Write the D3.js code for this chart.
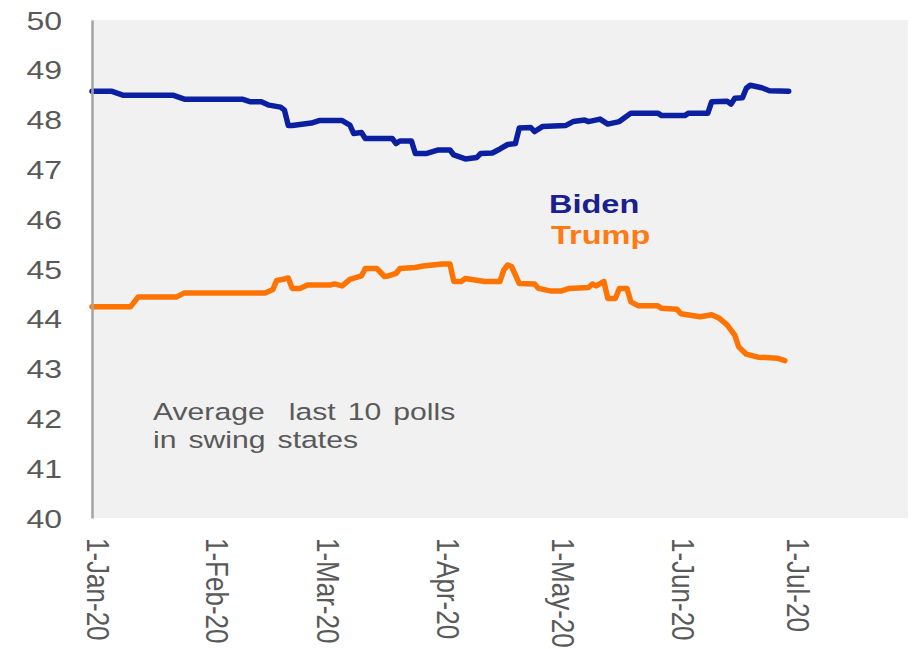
<!DOCTYPE html>
<html>
<head>
<meta charset="utf-8">
<script src="https://cdnjs.cloudflare.com/ajax/libs/d3/7.8.5/d3.min.js"></script>
<style>
body { margin: 0; background: #fff; }
svg { display: block; font-family: "Liberation Sans", Arial, sans-serif; }
</style>
</head>
<body>
<svg id="chart" width="913" height="649"></svg>
<script>
// days since 1-Jan-20 and poll average
var bidenDays = [0, 5, 8, 21, 24, 39, 41, 44, 46, 49, 50, 51, 52, 57, 59, 65, 67, 68, 70, 71, 78, 79, 80, 83, 84, 87, 90, 93, 94, 97, 100, 101, 104, 106, 108, 110, 111, 114, 115, 117, 123, 125, 128, 129, 132, 134, 137, 140, 147, 148, 154, 155, 160, 161, 165, 166, 167, 169, 170, 171, 174, 176, 181];
var bidenVals = [48.57, 48.57, 48.49, 48.49, 48.41, 48.41, 48.36, 48.36, 48.29, 48.25, 48.19, 47.88, 47.88, 47.93, 47.98, 47.98, 47.89, 47.72, 47.74, 47.62, 47.62, 47.52, 47.57, 47.57, 47.32, 47.32, 47.39, 47.39, 47.29, 47.21, 47.24, 47.32, 47.33, 47.41, 47.50, 47.52, 47.83, 47.84, 47.76, 47.86, 47.88, 47.96, 47.99, 47.96, 48.01, 47.91, 47.96, 48.13, 48.13, 48.08, 48.08, 48.13, 48.13, 48.36, 48.37, 48.31, 48.43, 48.44, 48.63, 48.69, 48.64, 48.58, 48.57];

var trumpDays = [0, 10, 12, 22, 24, 45, 47, 48, 50, 51, 52, 54, 56, 62, 63, 65, 67, 70, 71, 74, 76, 77, 79, 80, 84, 86, 91, 93, 94, 96, 97, 102, 106, 107, 108, 109, 111, 115, 116, 119, 122, 124, 129, 130, 131, 133, 134, 136, 137, 139, 140, 142, 147, 148, 152, 153, 158, 161, 163, 165, 167, 168, 170, 173, 178, 180];
var trumpVals = [44.24, 44.24, 44.44, 44.44, 44.52, 44.52, 44.59, 44.77, 44.80, 44.82, 44.61, 44.61, 44.68, 44.68, 44.70, 44.66, 44.79, 44.86, 45.01, 45.01, 44.85, 44.86, 44.91, 45.01, 45.03, 45.06, 45.10, 45.10, 44.75, 44.75, 44.81, 44.75, 44.75, 44.98, 45.08, 45.05, 44.71, 44.70, 44.61, 44.56, 44.56, 44.61, 44.63, 44.70, 44.66, 44.75, 44.41, 44.41, 44.61, 44.61, 44.34, 44.26, 44.26, 44.21, 44.19, 44.10, 44.04, 44.08, 44.01, 43.88, 43.67, 43.44, 43.29, 43.23, 43.21, 43.16];

var yTicks = [40, 41, 42, 43, 44, 45, 46, 47, 48, 49, 50];
var seriesNames = ['Biden', 'Trump'];
var noteLines = ['Average  last 10 polls', 'in swing states'];

var start = new Date(2020, 0, 1);
var stretch = 1.23; // the picture is a bit wider than tall

var svg = d3.select('#chart');
var plotL = 92, plotR = 908, plotT = 20, plotB = 518;

var x = d3.scaleTime().domain([start, new Date(2020, 6, 31)]).range([plotL, plotR]);
var y = d3.scaleLinear().domain([40, 50]).range([plotB, plotT]);

svg.append('rect')
  .attr('x', plotL).attr('y', plotT)
  .attr('width', plotR - plotL).attr('height', plotB - plotT)
  .style('fill', '#f1f1f1');

function toPoints(days, vals) {
  return days.map(function(d, i) { return {date: d3.timeDay.offset(start, d), v: vals[i]}; });
}

var line = d3.line()
  .x(function(d) { return x(d.date); })
  .y(function(d) { return y(d.v); });

svg.append('path')
  .datum(toPoints(trumpDays, trumpVals))
  .attr('d', line)
  .style('fill', 'none').style('stroke', '#ff7300')
  .style('stroke-width', 5.5).style('stroke-linejoin', 'round').style('stroke-linecap', 'round');

svg.append('path')
  .datum(toPoints(bidenDays, bidenVals))
  .attr('d', line)
  .style('fill', 'none').style('stroke', '#0b20a0')
  .style('stroke-width', 5.5).style('stroke-linejoin', 'round').style('stroke-linecap', 'round');

// y axis
var yAxis = svg.append('g')
  .attr('transform', 'translate(' + plotL + ',0)')
  .call(d3.axisLeft(y).tickValues(yTicks).tickSize(0).tickSizeOuter(0).tickFormat(d3.format('d')));
yAxis.select('.domain').style('stroke', '#a3a3a3').style('stroke-width', 2.5);
yAxis.selectAll('text')
  .attr('x', null).attr('dy', null)
  .attr('text-anchor', 'end')
  .attr('transform', 'translate(-30,9) scale(' + stretch + ',1)')
  .style('font-size', '26px').style('fill', '#595959').style('font-family', '"Liberation Sans", Arial, sans-serif');

// x axis
var months = d3.timeMonth.range(start, new Date(2020, 6, 2));
var xAxis = svg.append('g')
  .attr('transform', 'translate(0,' + plotB + ')')
  .call(d3.axisBottom(x).tickValues(months).tickSize(0).tickFormat(d3.timeFormat('%-d-%b-%y')));
xAxis.select('.domain').remove();
xAxis.selectAll('text')
  .attr('y', null).attr('dy', null)
  .attr('text-anchor', 'start')
  .attr('transform', 'translate(-6,20) scale(' + stretch + ',1) rotate(90)')
  .style('font-size', '26px').style('fill', '#595959').style('font-family', '"Liberation Sans", Arial, sans-serif');

// legend labels
var legColors = ['#1a218e', '#ff7a12'];
var legX = [549, 551], legY = [213, 244];
seriesNames.forEach(function(name, i) {
  svg.append('text')
    .attr('transform', 'translate(' + legX[i] + ',' + legY[i] + ') scale(1.3,1)')
    .style('font-size', '25px').style('font-weight', 'bold')
    .style('fill', legColors[i])
    .text(name);
});

// note
noteLines.forEach(function(t, i) {
  svg.append('text')
    .attr('transform', 'translate(153,' + (420 + i * 28) + ') scale(' + stretch + ',1)')
    .style('font-size', '24.5px').style('fill', '#595959')
    .style('white-space', 'pre').style('word-spacing', '3px')
    .text(t);
});
</script>
</body>
</html>
